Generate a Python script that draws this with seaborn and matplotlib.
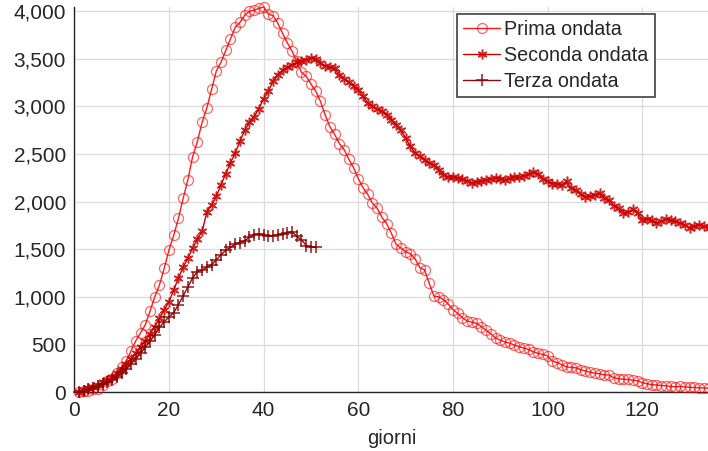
import numpy as np
import pandas as pd
import matplotlib
matplotlib.use("Agg")
import matplotlib.pyplot as plt
from matplotlib.ticker import FuncFormatter
import seaborn as sns

# ---------------- data ----------------
prima_raw = [26, 35, 36, 56, 64, 105, 140, 166, 229, 295,
             351, 462, 567, 650, 733, 877, 1028, 1153, 1328, 1518,
             1672, 1851, 2060, 2257, 2498, 2655, 2857, 3009, 3204, 3396,
             3489, 3612, 3732, 3856, 3906, 3981, 4023, 4035, 4053, 4068,
             3994, 3977, 3898, 3792, 3693, 3605, 3497, 3381, 3343, 3260,
             3186, 3079, 2936, 2812, 2733, 2635, 2573, 2471, 2384, 2267,
             2173, 2102, 2009, 1956, 1863, 1795, 1694, 1578, 1539, 1501,
             1479, 1427, 1333, 1311, 1168, 1034, 1027, 999, 952, 893,
             855, 808, 775, 762, 749, 716, 676, 640, 595, 572,
             553, 541, 521, 505, 489, 475, 450, 435, 424, 408,
             353, 338, 316, 293, 287, 283, 263, 249, 236, 227,
             220, 209, 207, 178, 168, 163, 161, 152, 148, 127,
             115, 107, 103, 97, 94, 87, 84, 87, 82, 79,
             77, 72, 71, 69]
prima = [v - prima_raw[0] for v in prima_raw]

seconda = [0, 20, 40, 60, 80, 105, 130, 160, 200, 245,
           295, 350, 410, 470, 540, 610, 690, 775, 865, 950,
           1075, 1197, 1313, 1407, 1512, 1607, 1687, 1890, 1963, 2055,
           2178, 2293, 2408, 2510, 2633, 2748, 2832, 2888, 2976, 3077,
           3158, 3263, 3333, 3378, 3410, 3438, 3462, 3473, 3490, 3510,
           3500, 3450, 3425, 3412, 3398, 3333, 3285, 3255, 3210, 3175,
           3105, 3035, 3000, 2973, 2948, 2913, 2860, 2808, 2748, 2668,
           2580, 2510, 2475, 2440, 2405, 2388, 2335, 2283, 2258, 2254,
           2248, 2237, 2220, 2195, 2210, 2220, 2225, 2240, 2248, 2240,
           2232, 2244, 2258, 2254, 2270, 2295, 2307, 2293, 2237, 2212,
           2188, 2185, 2170, 2212, 2143, 2118, 2080, 2048, 2055, 2073,
           2090, 2038, 2013, 1957, 1933, 1880, 1887, 1922, 1880, 1810,
           1817, 1803, 1775, 1792, 1817, 1803, 1792, 1775, 1757, 1722,
           1747, 1757, 1740, 1722]

terza = [0, 18, 35, 50, 65, 85, 105, 130, 165, 200,
         245, 300, 350, 410, 470, 535, 600, 680, 740, 790,
         835, 920, 1010, 1105, 1200, 1265, 1285, 1310, 1337, 1390,
         1442, 1490, 1520, 1555, 1570, 1590, 1625, 1655, 1660, 1652,
         1640, 1640, 1655, 1660, 1675, 1685, 1635, 1600, 1540, 1523,
         1520]

labels = ["Prima ondata", "Seconda ondata", "Terza ondata"]
x_ticks = [0, 20, 40, 60, 80, 100, 120]
y_ticks = [0, 500, 1000, 1500, 2000, 2500, 3000, 3500, 4000]
x_label = "giorni"

df = pd.concat([
    pd.DataFrame({"giorno": np.arange(1, len(prima) + 1), "valore": prima, "serie": labels[0]}),
    pd.DataFrame({"giorno": np.arange(1, len(seconda) + 1), "valore": seconda, "serie": labels[1]}),
    pd.DataFrame({"giorno": np.arange(1, len(terza) + 1), "valore": terza, "serie": labels[2]}),
], ignore_index=True)

# ---------------- style ----------------
sns.set_style("white")
plt.rcParams["font.family"] = ["Liberation Sans", "DejaVu Sans"]
plt.rcParams["font.size"] = 15

fig = plt.figure(figsize=(7.08, 4.51), dpi=100)
ax = fig.add_axes([74.3 / 708, 1 - 392.3 / 451, (708.5 - 74.3) / 708, (392.3 - 7) / 451])

styles = {
    labels[0]: dict(color="#ff1a1a", marker="o", ms=7.2, mfc="none", mec=(1, 0, 0, 0.6), mew=0.9, lw=1.0),
    labels[1]: dict(color="#cc0000", marker=(6, 2, 0), ms=7, mec=(0.8, 0, 0, 0.85), mew=1.1, lw=1.0),
    labels[2]: dict(color="#8f0a0a", marker="+", ms=8, mec=(0.55, 0.0, 0.0, 0.9), mew=1.1, lw=1.0),
}

for name in labels:
    st = styles[name]
    sub = df[df["serie"] == name]
    sns.lineplot(data=sub, x="giorno", y="valore", ax=ax, label=name,
                 color=st["color"], linewidth=st["lw"], marker=st["marker"],
                 markersize=st["ms"], markerfacecolor=st.get("mfc", st["color"]),
                 markeredgecolor=st["mec"], markeredgewidth=st["mew"],
                 estimator=None, sort=False, clip_on=False, zorder=3)

ax.set_xlim(0, 134)
ax.set_ylim(0, max(prima))
ax.set_xticks(x_ticks)
ax.set_yticks(y_ticks)
ax.yaxis.set_major_formatter(FuncFormatter(lambda v, p: f"{v:,.0f}"))
ax.set_xlabel(x_label, fontsize=14.5, color="#262626", labelpad=7)
ax.set_ylabel("")

ax.grid(True, color="#dcdcdc", linewidth=0.9, zorder=0)
ax.set_axisbelow(True)
for s in ["top", "right"]:
    ax.spines[s].set_visible(False)
for s in ["left", "bottom"]:
    ax.spines[s].set_color("#262626")
    ax.spines[s].set_linewidth(1.0)
ax.tick_params(axis="both", direction="in", length=5, width=1.0, color="#262626",
               labelcolor="#262626", labelsize=15)
ax.tick_params(axis="x", pad=6)
ax.tick_params(axis="y", pad=6)

leg = ax.legend(loc="upper right", bbox_to_anchor=((655 - 74.3) / 634.2, 1 - (14 - 7) / 385.3),
                borderaxespad=0, frameon=True, fancybox=False, framealpha=1,
                edgecolor="#404040", handlelength=1.9, handletextpad=0.2,
                borderpad=0.32, labelspacing=0.34, fontsize=14.2)
leg.get_frame().set_linewidth(1.2)

fig.savefig("out.png", dpi=100)
